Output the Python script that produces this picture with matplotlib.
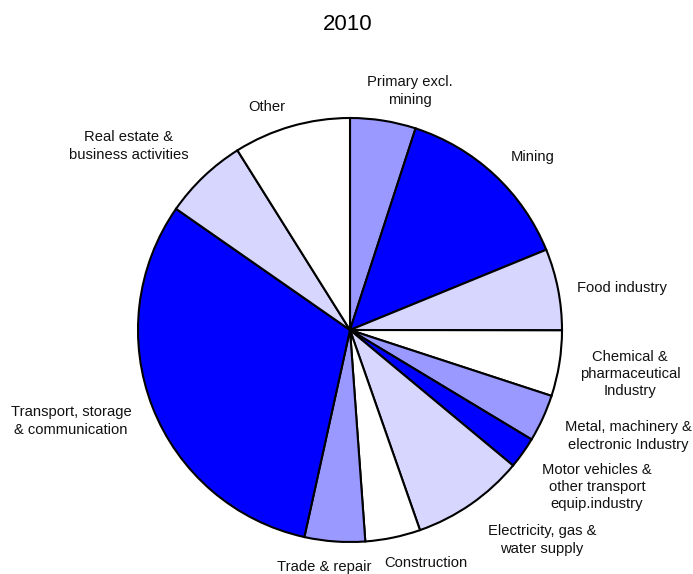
import matplotlib
matplotlib.use("Agg")
import matplotlib.pyplot as plt

categories = ["Primary excl.\nmining", "Mining", "Food industry",
              "Chemical &\npharmaceutical\nIndustry",
              "Metal, machinery &\nelectronic Industry",
              "Motor vehicles &\nother transport\nequip.industry",
              "Electricity, gas &\nwater supply", "Construction",
              "Trade & repair", "Transport, storage\n& communication",
              "Real estate &\nbusiness activities", "Other"]
values = [5.0, 13.8, 6.2, 5.0, 3.6, 2.4, 8.6, 4.2, 4.6, 31.2, 6.4, 8.9]
colors = ["#9999FF", "#0000FF", "#D6D6FF", "#FFFFFF", "#9999FF", "#0000FF",
          "#D6D6FF", "#FFFFFF", "#9999FF", "#0000FF", "#D6D6FF", "#FFFFFF"]
# label anchor positions in pixels (x, y from top)
label_pos = [(410, 91), (533, 157), (622, 288), (630, 374), (628, 436),
             (597, 487), (542, 540), (426, 563), (324, 567), (71, 421),
             (129, 146), (267, 107)]

W, H = 693, 574
fig = plt.figure(figsize=(W / 100, H / 100), dpi=100)
ax = fig.add_axes([0, 0, 1, 1])

cx, cy, r = 350, H - 330, 212
ax.pie(values, colors=colors, startangle=90, counterclock=False,
       center=(cx, cy), radius=r, frame=True,
       wedgeprops=dict(edgecolor="black", linewidth=1.5))
ax.set_xlim(0, W)
ax.set_ylim(0, H)
ax.set_aspect("auto")
ax.axis("off")

lab_font = ["Liberation Sans", "DejaVu Sans"]
for lab, (x, y) in zip(categories, label_pos):
    ax.text(x, H - y, lab, ha="center", va="center", fontsize=10.6,
            family=lab_font, color="#111111", linespacing=1.3)

ax.text(348, H - 25, "2010", ha="center", va="center", fontsize=16,
        family=["Liberation Sans", "DejaVu Sans"], color="black")

fig.savefig("out.png", dpi=100)
